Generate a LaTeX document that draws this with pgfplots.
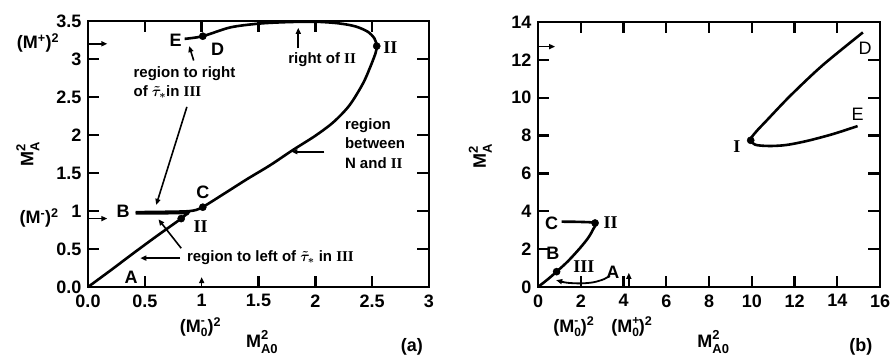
\documentclass[border=0pt]{standalone}
\usepackage{fontspec}
\setmainfont{Liberation Sans}
\newfontfamily\serifrm{Liberation Serif}
\usepackage{pgfplots}
\pgfplotsset{compat=1.18}
\usetikzlibrary{arrows.meta}
\newcommand{\RN}[1]{{\serifrm\bfseries #1}}
\newcommand{\bigf}{\fontsize{18}{18}\selectfont\bfseries}
\newcommand{\ann}{\fontsize{15}{19.5}\selectfont\bfseries}
\newcommand{\supsub}[2]{\rlap{\raisebox{8pt}{\fontsize{13}{13}\selectfont\bfseries #1}}\raisebox{-6pt}{\fontsize{13}{13}\selectfont\bfseries #2}}
\newcommand{\supsubs}[2]{\rlap{\raisebox{8pt}{\fontsize{12}{12}\selectfont\bfseries #1}}\raisebox{-4pt}{\fontsize{12}{12}\selectfont\bfseries #2}}
\tikzset{arr/.style={-{Triangle[length=6pt,width=5pt]}, line width=1.6pt},
  tk/.style={line width=2.4pt, black}}
\pgfplotsset{
  mystyle/.style={
    scale only axis, clip=false,
    axis line style={line width=2.2pt},
    major tick length=0pt,
    ticklabel style={font=\bigf},
    /pgf/number format/assume math mode=true,
    xticklabel style={yshift=-4pt},
    yticklabel style={xshift=-3pt},
  },
  curve/.style={black, line width=2.6pt, smooth, tension=0.5, no marks},
  dots/.style={black, only marks, mark=*, mark size=3.6pt},
}
\begin{document}
\begin{tikzpicture}
\path[use as bounding box] (0pt,0pt) rectangle (893pt,358pt);
% ---------------- panel (a)
\begin{axis}[mystyle, at={(88pt,71pt)}, anchor=south west,
  width=341pt, height=266pt,
  xmin=0, xmax=3, ymin=0, ymax=3.5,
  xtick={0,0.5,1,1.5,2,2.5,3}, xticklabels={0.0,0.5,1,1.5,2,2.5,3},
  ytick={0,0.5,1,1.5,2,2.5,3,3.5}, yticklabels={0.0,0.5,1,1.5,2,2.5,3,3.5}]
% tick marks
\pgfplotsinvokeforeach{0.5,1.5,2,2.5}{\draw[tk] (axis cs:#1,0) -- ++(0pt,11pt);}
\pgfplotsinvokeforeach{0.5,1,1.5,2,2.5}{\draw[tk] (axis cs:#1,3.5) -- ++(0pt,-11pt);}
\pgfplotsinvokeforeach{0.5,1,1.5,2,2.5,3}{\draw[tk] (axis cs:0,#1) -- ++(11pt,0pt); \draw[tk] (axis cs:3,#1) -- ++(-12pt,0pt);}
% branch A -> II -> B
\addplot[curve] coordinates {(0,0) (0.2,0.22) (0.4,0.445) (0.6,0.665) (0.75,0.825) (0.82,0.90) (0.86,0.95) (0.88,0.972) (0.8,0.972) (0.6,0.97) (0.42,0.97)};
% branch B -> C -> II -> D -> E
\addplot[curve] coordinates {(0.42,0.985) (0.7,0.99) (0.9,1.0) (1.0,1.045) (1.2,1.23) (1.4,1.42) (1.6,1.6) (1.8,1.8) (2.0,1.99) (2.16,2.17) (2.3,2.39) (2.42,2.68) (2.49,2.92) (2.53,3.08) (2.54,3.17) (2.52,3.27) (2.46,3.36) (2.35,3.43) (2.2,3.47) (2.0,3.49) (1.75,3.485) (1.5,3.465) (1.25,3.415) (1.01,3.30) (0.85,3.265)};
\addplot[dots] coordinates {(0.82,0.90) (1.01,1.05) (2.54,3.17) (1.01,3.30)};
% labels
\node[font=\bigf] at (axis cs:0.77,3.24) {E};
\node[font=\bigf] at (axis cs:1.14,3.13) {D};
\node[font=\bigf] at (axis cs:2.66,3.15) {\RN{II}};
\node[font=\bigf] at (axis cs:0.31,1.0) {B};
\node[font=\bigf] at (axis cs:1.01,1.25) {C};
\node[font=\bigf] at (axis cs:0.99,0.80) {\RN{II}};
\node[font=\bigf] at (axis cs:0.38,0.13) {A};
% annotations
\draw[arr] (axis cs:1.85,3.14) -- (axis cs:1.85,3.41);
\node[font=\ann] at (axis cs:2.06,2.99) {right of \RN{II}};
\draw[arr] (axis cs:0.93,2.98) -- (axis cs:0.89,3.17);
\node[font=\ann, align=left, anchor=west] at (axis cs:0.37,2.69) {region to right\\of {\boldmath$\tilde{\tau}_{*}$}in \RN{III}};
\draw[arr] (axis cs:0.87,2.37) -- (axis cs:0.60,1.08);
\node[font=\ann, align=left, anchor=west] at (axis cs:2.23,1.89) {region\\between\\N and \RN{II}};
\draw[arr] (axis cs:2.08,1.78) -- (axis cs:1.79,1.78);
\node[font=\ann, anchor=west] at (axis cs:0.84,0.39) {region to left of {\boldmath$\tilde{\tau}_{*}$} in \RN{III}};
\draw[arr] (axis cs:0.81,0.38) -- (axis cs:0.46,0.38);
\draw[arr] (axis cs:0.82,0.51) -- (axis cs:0.62,0.89);
% axis markers
\draw[arr] (axis cs:0.0,3.2) -- (axis cs:0.17,3.2);
\draw[arr] (axis cs:0.0,0.9) -- (axis cs:0.17,0.9);
\draw[arr] (axis cs:1,0.0) -- (axis cs:1,0.13);
% outside labels
\node[font=\bigf] at (axis cs:-0.44,3.21) {(M\textsuperscript{+})\textsuperscript{2}};
\node[font=\bigf] at (axis cs:-0.43,0.91) {(M\textsuperscript{-})\textsuperscript{2}};
\node[font=\bigf] at (axis cs:0.99,-0.53) {(M\supsubs{-}{0})\textsuperscript{2}};
\node[font=\bigf] at (axis cs:1.53,-0.72) {M\supsub{2}{A0}};
\node[font=\bigf] at (axis cs:2.85,-0.79) {(a)};
\node[font=\bigf, rotate=90] at (axis cs:-0.53,1.74) {M\supsub{2}{A}};
\end{axis}
% ---------------- panel (b)
\begin{axis}[mystyle, at={(538pt,71pt)}, anchor=south west,
  width=342pt, height=265pt,
  xmin=0, xmax=16, ymin=0, ymax=14,
  xtick={0,2,...,16}, ytick={0,2,...,14}]
\pgfplotsinvokeforeach{2,4,6,8,10,12,14}{\draw[tk] (axis cs:#1,0) -- ++(0pt,11pt); \draw[tk] (axis cs:#1,14) -- ++(0pt,-11pt);}
\pgfplotsinvokeforeach{2,4,6,8,10,12}{\draw[tk] (axis cs:0,#1) -- ++(11pt,0pt); \draw[tk] (axis cs:16,#1) -- ++(-12pt,0pt);}
\addplot[curve] coordinates {(15.2,13.45) (13.3,11.7) (11.8,10.1) (10.7,8.8) (10.2,8.2) (9.95,7.8) (10.15,7.52) (10.8,7.45) (11.6,7.5) (12.6,7.72) (13.8,8.08) (14.95,8.5)};
\addplot[curve] coordinates {(1.1,3.45) (1.9,3.44) (2.67,3.38) (2.58,3.05) (2.35,2.6) (1.96,2.05) (1.4,1.36) (0.87,0.81) (0.45,0.4) (0,0)};
\addplot[curve, line width=1.8pt] coordinates {(3.36,0.6) (3.1,0.42) (2.6,0.25) (2.0,0.19) (1.4,0.22) (1.0,0.3)};
\addplot[dots] coordinates {(0.87,0.81) (2.67,3.38) (9.95,7.75)};
\draw[arr] (axis cs:1.2,0.26) -- (axis cs:0.85,0.36);
\node[font=\fontsize{18}{18}\selectfont] at (axis cs:15.3,12.6) {D};
\node[font=\fontsize{18}{18}\selectfont] at (axis cs:14.95,9.1) {E};
\node[font=\bigf] at (axis cs:9.3,7.4) {\RN{I}};
\node[font=\bigf] at (axis cs:3.4,3.42) {\RN{II}};
\node[font=\bigf] at (axis cs:0.64,3.36) {C};
\node[font=\bigf] at (axis cs:0.7,1.79) {B};
\node[font=\bigf] at (axis cs:2.15,1.06) {\RN{III}};
\node[font=\bigf] at (axis cs:3.5,0.79) {A};
\draw[arr] (axis cs:0,12.7) -- (axis cs:0.8,12.7);
\draw[arr] (axis cs:4.25,0) -- (axis cs:4.25,0.75);
\node[font=\bigf] at (axis cs:1.68,-2.1) {(M\supsubs{-}{0})\textsuperscript{2}};
\node[font=\bigf] at (axis cs:4.39,-2.1) {(M\supsubs{+}{0})\textsuperscript{2}};
\node[font=\bigf] at (axis cs:8.2,-2.9) {M\supsub{2}{A0}};
\node[font=\bigf] at (axis cs:15.1,-3.17) {(b)};
\node[font=\bigf, rotate=90] at (axis cs:-2.7,6.9) {M\supsub{2}{A}};
\end{axis}
\end{tikzpicture}
\end{document}
